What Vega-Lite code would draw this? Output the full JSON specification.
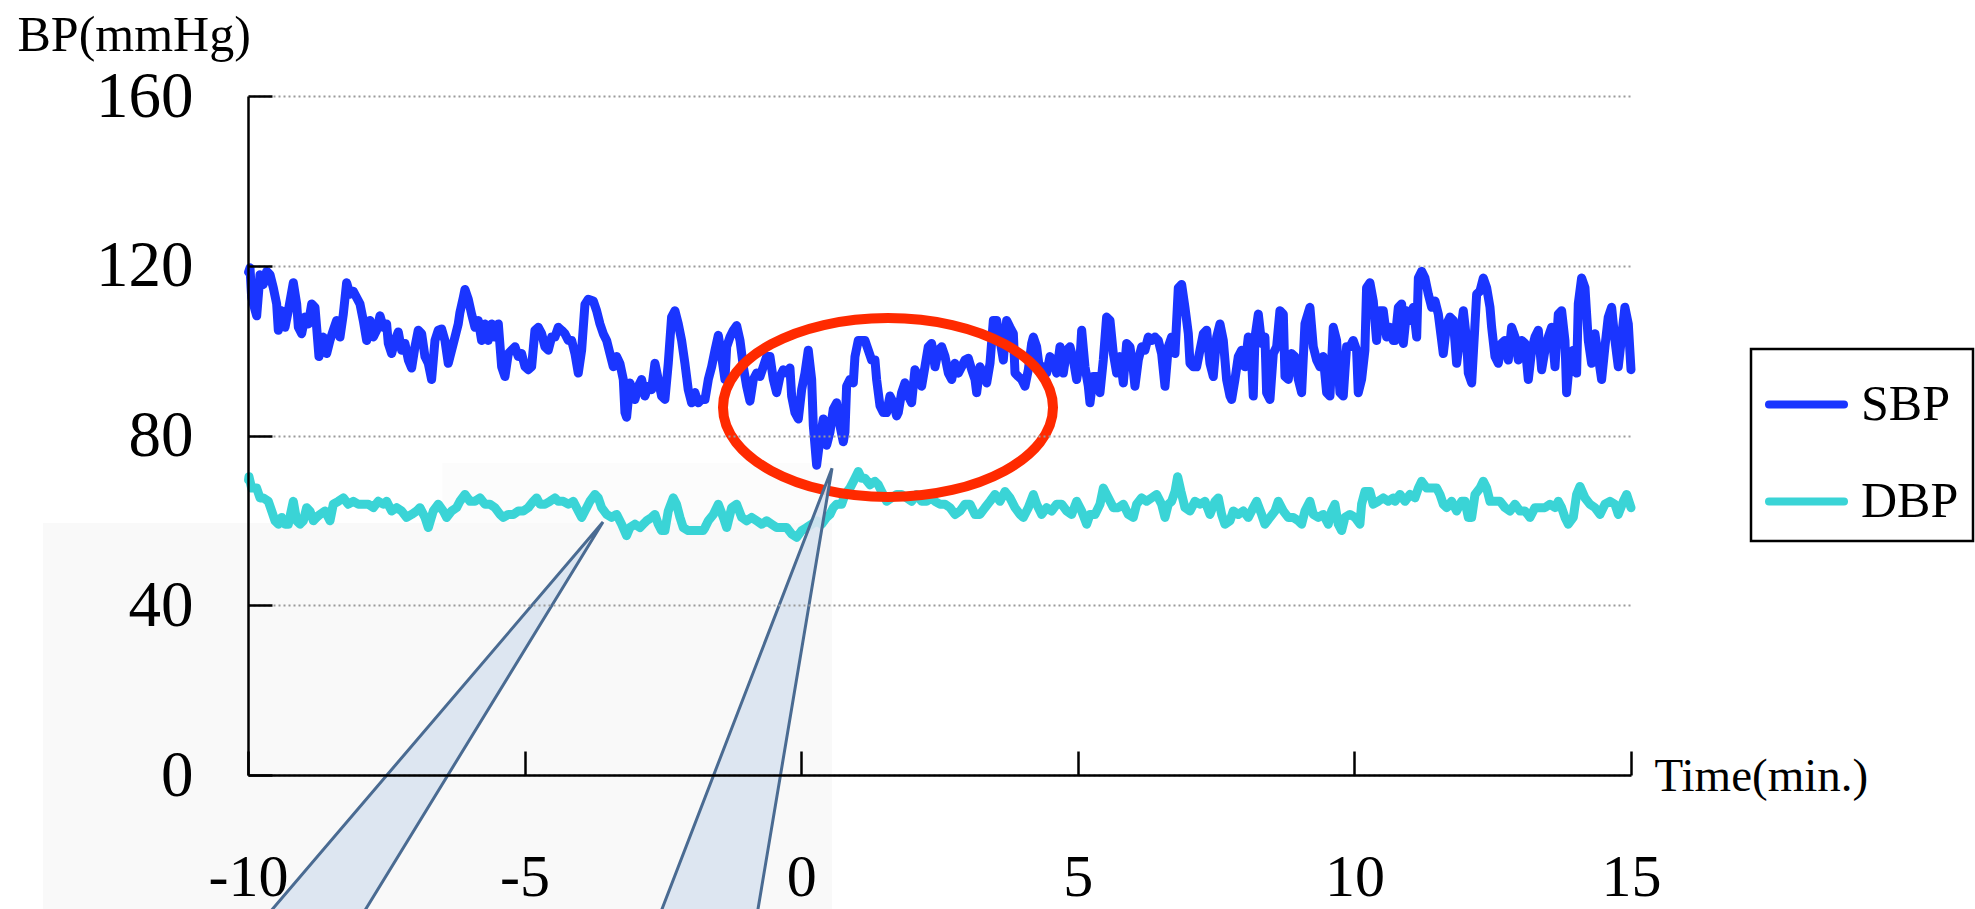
{
  "$schema": "https://vega.github.io/schema/vega-lite/v6.json",
  "width": 1383,
  "height": 679,
  "autosize": {"type": "none"},
  "padding": {"left": 248, "top": 96, "right": 344, "bottom": 134},
  "background": "white",
  "config": {
    "view": {"stroke": null},
    "font": "Liberation Serif",
    "legend": {"labelFont": "Liberation Serif"}
  },
  "datasets": {
    "bp": [
      {"t":-9.99,"v":118.5,"s":"SBP"},{"t":-9.964,"v":119.5,"s":"SBP"},{"t":-9.934,"v":112.5,"s":"SBP"},{"t":-9.843,"v":108.2,"s":"SBP"},{"t":-9.783,"v":117.9,"s":"SBP"},{"t":-9.723,"v":115.6,"s":"SBP"},{"t":-9.663,"v":118.7,"s":"SBP"},{"t":-9.602,"v":117.9,"s":"SBP"},{"t":-9.542,"v":114.8,"s":"SBP"},{"t":-9.482,"v":111,"s":"SBP"},{"t":-9.452,"v":104.8,"s":"SBP"},{"t":-9.392,"v":109.4,"s":"SBP"},{"t":-9.331,"v":105.5,"s":"SBP"},{"t":-9.271,"v":109.4,"s":"SBP"},{"t":-9.181,"v":116,"s":"SBP"},{"t":-9.12,"v":111,"s":"SBP"},{"t":-9.09,"v":105.5,"s":"SBP"},{"t":-9.03,"v":104,"s":"SBP"},{"t":-8.97,"v":107.9,"s":"SBP"},{"t":-8.91,"v":106.3,"s":"SBP"},{"t":-8.849,"v":111,"s":"SBP"},{"t":-8.789,"v":110.2,"s":"SBP"},{"t":-8.759,"v":105.5,"s":"SBP"},{"t":-8.717,"v":98.6,"s":"SBP"},{"t":-8.639,"v":103.2,"s":"SBP"},{"t":-8.578,"v":99.3,"s":"SBP"},{"t":-8.518,"v":102.4,"s":"SBP"},{"t":-8.458,"v":104.8,"s":"SBP"},{"t":-8.398,"v":107.1,"s":"SBP"},{"t":-8.337,"v":103.2,"s":"SBP"},{"t":-8.277,"v":108.6,"s":"SBP"},{"t":-8.217,"v":116,"s":"SBP"},{"t":-8.157,"v":113.3,"s":"SBP"},{"t":-8.096,"v":114,"s":"SBP"},{"t":-8.036,"v":112.5,"s":"SBP"},{"t":-7.976,"v":111,"s":"SBP"},{"t":-7.916,"v":107.1,"s":"SBP"},{"t":-7.855,"v":102.4,"s":"SBP"},{"t":-7.795,"v":107.1,"s":"SBP"},{"t":-7.735,"v":103.2,"s":"SBP"},{"t":-7.675,"v":104.8,"s":"SBP"},{"t":-7.614,"v":108.2,"s":"SBP"},{"t":-7.554,"v":105.5,"s":"SBP"},{"t":-7.494,"v":106.3,"s":"SBP"},{"t":-7.464,"v":101.7,"s":"SBP"},{"t":-7.404,"v":99.3,"s":"SBP"},{"t":-7.343,"v":102.4,"s":"SBP"},{"t":-7.283,"v":104.4,"s":"SBP"},{"t":-7.223,"v":100.1,"s":"SBP"},{"t":-7.163,"v":101.7,"s":"SBP"},{"t":-7.102,"v":97.8,"s":"SBP"},{"t":-7.042,"v":95.9,"s":"SBP"},{"t":-6.982,"v":100.9,"s":"SBP"},{"t":-6.922,"v":104.8,"s":"SBP"},{"t":-6.861,"v":104,"s":"SBP"},{"t":-6.801,"v":98.6,"s":"SBP"},{"t":-6.741,"v":97,"s":"SBP"},{"t":-6.681,"v":93.2,"s":"SBP"},{"t":-6.62,"v":102.4,"s":"SBP"},{"t":-6.56,"v":104.8,"s":"SBP"},{"t":-6.5,"v":105.1,"s":"SBP"},{"t":-6.44,"v":102.4,"s":"SBP"},{"t":-6.38,"v":97,"s":"SBP"},{"t":-6.319,"v":100.1,"s":"SBP"},{"t":-6.259,"v":103.2,"s":"SBP"},{"t":-6.199,"v":106.3,"s":"SBP"},{"t":-6.169,"v":109,"s":"SBP"},{"t":-6.108,"v":112.5,"s":"SBP"},{"t":-6.078,"v":114.4,"s":"SBP"},{"t":-6.018,"v":112.1,"s":"SBP"},{"t":-5.958,"v":108.6,"s":"SBP"},
      {"t":-5.897,"v":105.5,"s":"SBP"},{"t":-5.837,"v":107.1,"s":"SBP"},{"t":-5.777,"v":102.4,"s":"SBP"},{"t":-5.716,"v":106.3,"s":"SBP"},{"t":-5.656,"v":102.4,"s":"SBP"},{"t":-5.596,"v":106.3,"s":"SBP"},{"t":-5.536,"v":103.2,"s":"SBP"},{"t":-5.475,"v":106.3,"s":"SBP"},{"t":-5.415,"v":96.2,"s":"SBP"},{"t":-5.355,"v":93.9,"s":"SBP"},{"t":-5.295,"v":99.3,"s":"SBP"},{"t":-5.234,"v":100.1,"s":"SBP"},{"t":-5.174,"v":100.9,"s":"SBP"},{"t":-5.114,"v":98.6,"s":"SBP"},{"t":-5.054,"v":99.3,"s":"SBP"},{"t":-4.993,"v":96.2,"s":"SBP"},{"t":-4.933,"v":95.5,"s":"SBP"},{"t":-4.873,"v":96.2,"s":"SBP"},{"t":-4.813,"v":104.8,"s":"SBP"},{"t":-4.752,"v":105.5,"s":"SBP"},{"t":-4.692,"v":104,"s":"SBP"},{"t":-4.632,"v":100.9,"s":"SBP"},{"t":-4.572,"v":100.1,"s":"SBP"},{"t":-4.511,"v":103.2,"s":"SBP"},{"t":-4.451,"v":103.2,"s":"SBP"},{"t":-4.391,"v":105.5,"s":"SBP"},{"t":-4.331,"v":104.8,"s":"SBP"},{"t":-4.271,"v":104,"s":"SBP"},{"t":-4.21,"v":102.4,"s":"SBP"},{"t":-4.15,"v":102.4,"s":"SBP"},{"t":-4.09,"v":99.3,"s":"SBP"},{"t":-4.03,"v":94.7,"s":"SBP"},{"t":-3.969,"v":100.1,"s":"SBP"},{"t":-3.909,"v":110.9,"s":"SBP"},{"t":-3.849,"v":112.1,"s":"SBP"},{"t":-3.758,"v":111.7,"s":"SBP"},{"t":-3.698,"v":109.4,"s":"SBP"},{"t":-3.638,"v":106.3,"s":"SBP"},{"t":-3.578,"v":104,"s":"SBP"},{"t":-3.517,"v":102.4,"s":"SBP"},{"t":-3.457,"v":99.3,"s":"SBP"},{"t":-3.397,"v":96.2,"s":"SBP"},{"t":-3.337,"v":98.6,"s":"SBP"},{"t":-3.277,"v":97,"s":"SBP"},{"t":-3.216,"v":93.2,"s":"SBP"},{"t":-3.186,"v":85.4,"s":"SBP"},{"t":-3.156,"v":84.3,"s":"SBP"},{"t":-3.096,"v":92.4,"s":"SBP"},{"t":-3.005,"v":88.5,"s":"SBP"},{"t":-2.945,"v":91.6,"s":"SBP"},{"t":-2.885,"v":93.2,"s":"SBP"},{"t":-2.825,"v":89.3,"s":"SBP"},{"t":-2.765,"v":91.6,"s":"SBP"},{"t":-2.704,"v":90.8,"s":"SBP"},{"t":-2.644,"v":97,"s":"SBP"},{"t":-2.584,"v":93.2,"s":"SBP"},{"t":-2.524,"v":89.3,"s":"SBP"},{"t":-2.463,"v":88.5,"s":"SBP"},{"t":-2.403,"v":97,"s":"SBP"},{"t":-2.343,"v":107.9,"s":"SBP"},{"t":-2.283,"v":109.4,"s":"SBP"},{"t":-2.222,"v":106.3,"s":"SBP"},{"t":-2.162,"v":102.4,"s":"SBP"},{"t":-2.102,"v":97,"s":"SBP"},{"t":-2.042,"v":90.8,"s":"SBP"},{"t":-1.981,"v":87.7,"s":"SBP"},{"t":-1.921,"v":90.1,"s":"SBP"},{"t":-1.861,"v":87.7,"s":"SBP"},{"t":-1.801,"v":88.5,"s":"SBP"},
      {"t":-1.739,"v":88.5,"s":"SBP"},{"t":-1.679,"v":93.2,"s":"SBP"},{"t":-1.619,"v":96.2,"s":"SBP"},{"t":-1.558,"v":100.1,"s":"SBP"},{"t":-1.498,"v":103.6,"s":"SBP"},{"t":-1.438,"v":98.6,"s":"SBP"},{"t":-1.378,"v":93.2,"s":"SBP"},{"t":-1.347,"v":100.9,"s":"SBP"},{"t":-1.287,"v":103.2,"s":"SBP"},{"t":-1.227,"v":104.8,"s":"SBP"},{"t":-1.167,"v":105.9,"s":"SBP"},{"t":-1.106,"v":102.4,"s":"SBP"},{"t":-1.046,"v":96.2,"s":"SBP"},{"t":-0.986,"v":91.6,"s":"SBP"},{"t":-0.926,"v":88.1,"s":"SBP"},{"t":-0.866,"v":93.2,"s":"SBP"},{"t":-0.805,"v":94.7,"s":"SBP"},{"t":-0.745,"v":93.9,"s":"SBP"},{"t":-0.685,"v":96.2,"s":"SBP"},{"t":-0.625,"v":98.6,"s":"SBP"},{"t":-0.564,"v":98.6,"s":"SBP"},{"t":-0.504,"v":93.2,"s":"SBP"},{"t":-0.444,"v":90.1,"s":"SBP"},{"t":-0.384,"v":93.9,"s":"SBP"},{"t":-0.323,"v":95.5,"s":"SBP"},{"t":-0.263,"v":94.7,"s":"SBP"},{"t":-0.203,"v":95.9,"s":"SBP"},{"t":-0.173,"v":89.3,"s":"SBP"},{"t":-0.113,"v":85.4,"s":"SBP"},{"t":-0.052,"v":83.9,"s":"SBP"},{"t":0.008,"v":90.8,"s":"SBP"},{"t":0.068,"v":94.7,"s":"SBP"},{"t":0.128,"v":100.1,"s":"SBP"},{"t":0.189,"v":93.2,"s":"SBP"},{"t":0.219,"v":82.3,"s":"SBP"},{"t":0.279,"v":73,"s":"SBP"},{"t":0.339,"v":79.2,"s":"SBP"},{"t":0.4,"v":83.9,"s":"SBP"},{"t":0.46,"v":77.7,"s":"SBP"},{"t":0.52,"v":80.8,"s":"SBP"},{"t":0.58,"v":86.2,"s":"SBP"},{"t":0.641,"v":87.7,"s":"SBP"},{"t":0.701,"v":82.3,"s":"SBP"},{"t":0.761,"v":78.5,"s":"SBP"},{"t":0.791,"v":80.8,"s":"SBP"},{"t":0.821,"v":91.6,"s":"SBP"},{"t":0.881,"v":93.2,"s":"SBP"},{"t":0.942,"v":92.4,"s":"SBP"},{"t":0.972,"v":98.6,"s":"SBP"},{"t":1.032,"v":102.4,"s":"SBP"},{"t":1.092,"v":102.4,"s":"SBP"},{"t":1.153,"v":102.4,"s":"SBP"},{"t":1.213,"v":100.1,"s":"SBP"},{"t":1.273,"v":97.8,"s":"SBP"},{"t":1.333,"v":97.8,"s":"SBP"},{"t":1.363,"v":93.2,"s":"SBP"},{"t":1.424,"v":87,"s":"SBP"},{"t":1.484,"v":85.4,"s":"SBP"},{"t":1.544,"v":85.4,"s":"SBP"},{"t":1.604,"v":89.3,"s":"SBP"},{"t":1.665,"v":87.7,"s":"SBP"},{"t":1.725,"v":84.6,"s":"SBP"},{"t":1.755,"v":85.4,"s":"SBP"},{"t":1.815,"v":90.1,"s":"SBP"},{"t":1.875,"v":92.4,"s":"SBP"},{"t":1.936,"v":89.3,"s":"SBP"},{"t":1.996,"v":87.7,"s":"SBP"},{"t":2.056,"v":95.5,"s":"SBP"},{"t":2.116,"v":93.9,"s":"SBP"},{"t":2.177,"v":91.6,"s":"SBP"},{"t":2.237,"v":96.2,"s":"SBP"},{"t":2.297,"v":100.9,"s":"SBP"},{"t":2.357,"v":101.7,"s":"SBP"},
      {"t":2.419,"v":96.2,"s":"SBP"},{"t":2.479,"v":100.1,"s":"SBP"},{"t":2.539,"v":100.9,"s":"SBP"},{"t":2.6,"v":98.6,"s":"SBP"},{"t":2.66,"v":94.7,"s":"SBP"},{"t":2.72,"v":93.2,"s":"SBP"},{"t":2.78,"v":97,"s":"SBP"},{"t":2.841,"v":94.7,"s":"SBP"},{"t":2.901,"v":96.2,"s":"SBP"},{"t":2.961,"v":97.8,"s":"SBP"},{"t":3.021,"v":98.2,"s":"SBP"},{"t":3.082,"v":95.5,"s":"SBP"},{"t":3.142,"v":93.2,"s":"SBP"},{"t":3.172,"v":90.1,"s":"SBP"},{"t":3.232,"v":96.2,"s":"SBP"},{"t":3.292,"v":94.7,"s":"SBP"},{"t":3.353,"v":92.4,"s":"SBP"},{"t":3.413,"v":97,"s":"SBP"},{"t":3.473,"v":107.1,"s":"SBP"},{"t":3.533,"v":107.1,"s":"SBP"},{"t":3.594,"v":102.4,"s":"SBP"},{"t":3.654,"v":97.8,"s":"SBP"},{"t":3.714,"v":107.1,"s":"SBP"},{"t":3.774,"v":105.5,"s":"SBP"},{"t":3.835,"v":104,"s":"SBP"},{"t":3.865,"v":94.7,"s":"SBP"},{"t":3.925,"v":93.9,"s":"SBP"},{"t":3.985,"v":93.2,"s":"SBP"},{"t":4.045,"v":91.6,"s":"SBP"},{"t":4.106,"v":95.5,"s":"SBP"},{"t":4.166,"v":101.7,"s":"SBP"},{"t":4.196,"v":103.2,"s":"SBP"},{"t":4.256,"v":100.9,"s":"SBP"},{"t":4.317,"v":94.7,"s":"SBP"},{"t":4.377,"v":96.2,"s":"SBP"},{"t":4.437,"v":94.7,"s":"SBP"},{"t":4.497,"v":98.6,"s":"SBP"},{"t":4.558,"v":97.8,"s":"SBP"},{"t":4.618,"v":94.7,"s":"SBP"},{"t":4.678,"v":100.9,"s":"SBP"},{"t":4.738,"v":94.7,"s":"SBP"},{"t":4.799,"v":100.1,"s":"SBP"},{"t":4.859,"v":100.9,"s":"SBP"},{"t":4.919,"v":97.8,"s":"SBP"},{"t":4.979,"v":93.2,"s":"SBP"},{"t":5.039,"v":97.8,"s":"SBP"},{"t":5.07,"v":104.8,"s":"SBP"},{"t":5.13,"v":96.2,"s":"SBP"},{"t":5.19,"v":91.6,"s":"SBP"},{"t":5.22,"v":87.7,"s":"SBP"},{"t":5.28,"v":93.9,"s":"SBP"},{"t":5.341,"v":93.9,"s":"SBP"},{"t":5.401,"v":90.1,"s":"SBP"},{"t":5.461,"v":97.8,"s":"SBP"},{"t":5.521,"v":107.9,"s":"SBP"},{"t":5.582,"v":107.1,"s":"SBP"},{"t":5.642,"v":99.3,"s":"SBP"},{"t":5.702,"v":94.7,"s":"SBP"},{"t":5.762,"v":98.6,"s":"SBP"},{"t":5.823,"v":92.4,"s":"SBP"},{"t":5.883,"v":101.7,"s":"SBP"},{"t":5.943,"v":100.9,"s":"SBP"},{"t":6.003,"v":95.5,"s":"SBP"},{"t":6.033,"v":91.6,"s":"SBP"},{"t":6.094,"v":97.8,"s":"SBP"},{"t":6.154,"v":100.9,"s":"SBP"},{"t":6.214,"v":100.1,"s":"SBP"},{"t":6.274,"v":103.2,"s":"SBP"},{"t":6.335,"v":102.4,"s":"SBP"},{"t":6.395,"v":103.2,"s":"SBP"},{"t":6.455,"v":102.4,"s":"SBP"},{"t":6.515,"v":99.3,"s":"SBP"},
      {"t":6.576,"v":91.6,"s":"SBP"},{"t":6.636,"v":100.9,"s":"SBP"},{"t":6.696,"v":103.2,"s":"SBP"},{"t":6.757,"v":99.3,"s":"SBP"},{"t":6.817,"v":114.8,"s":"SBP"},{"t":6.877,"v":115.6,"s":"SBP"},{"t":6.937,"v":110.2,"s":"SBP"},{"t":6.998,"v":104,"s":"SBP"},{"t":7.028,"v":97,"s":"SBP"},{"t":7.088,"v":96.2,"s":"SBP"},{"t":7.148,"v":96.2,"s":"SBP"},{"t":7.209,"v":100.1,"s":"SBP"},{"t":7.269,"v":104,"s":"SBP"},{"t":7.329,"v":104.8,"s":"SBP"},{"t":7.389,"v":97,"s":"SBP"},{"t":7.449,"v":93.9,"s":"SBP"},{"t":7.51,"v":103.2,"s":"SBP"},{"t":7.57,"v":106.3,"s":"SBP"},{"t":7.63,"v":102.4,"s":"SBP"},{"t":7.69,"v":93.2,"s":"SBP"},{"t":7.751,"v":89.3,"s":"SBP"},{"t":7.781,"v":88.5,"s":"SBP"},{"t":7.841,"v":93.2,"s":"SBP"},{"t":7.901,"v":98.6,"s":"SBP"},{"t":7.962,"v":100.1,"s":"SBP"},{"t":8.022,"v":96.2,"s":"SBP"},{"t":8.082,"v":103.2,"s":"SBP"},{"t":8.142,"v":97.8,"s":"SBP"},{"t":8.172,"v":89.3,"s":"SBP"},{"t":8.203,"v":103.2,"s":"SBP"},{"t":8.263,"v":108.6,"s":"SBP"},{"t":8.323,"v":101.7,"s":"SBP"},{"t":8.383,"v":103.2,"s":"SBP"},{"t":8.413,"v":90.1,"s":"SBP"},{"t":8.474,"v":88.5,"s":"SBP"},{"t":8.534,"v":99.3,"s":"SBP"},{"t":8.594,"v":100.9,"s":"SBP"},{"t":8.654,"v":109.4,"s":"SBP"},{"t":8.715,"v":108.6,"s":"SBP"},{"t":8.745,"v":93.9,"s":"SBP"},{"t":8.805,"v":93.2,"s":"SBP"},{"t":8.865,"v":99.3,"s":"SBP"},{"t":8.925,"v":98.6,"s":"SBP"},{"t":8.986,"v":93.2,"s":"SBP"},{"t":9.046,"v":90.1,"s":"SBP"},{"t":9.106,"v":106.3,"s":"SBP"},{"t":9.196,"v":110.2,"s":"SBP"},{"t":9.257,"v":100.9,"s":"SBP"},{"t":9.317,"v":97.8,"s":"SBP"},{"t":9.377,"v":96.2,"s":"SBP"},{"t":9.437,"v":98.6,"s":"SBP"},{"t":9.498,"v":90.1,"s":"SBP"},{"t":9.558,"v":89.3,"s":"SBP"},{"t":9.618,"v":105.5,"s":"SBP"},{"t":9.678,"v":102.4,"s":"SBP"},{"t":9.739,"v":90.1,"s":"SBP"},{"t":9.799,"v":89.3,"s":"SBP"},{"t":9.859,"v":100.9,"s":"SBP"},{"t":9.919,"v":100.9,"s":"SBP"},{"t":9.979,"v":102.4,"s":"SBP"},{"t":10.04,"v":100.1,"s":"SBP"},{"t":10.07,"v":90.1,"s":"SBP"},{"t":10.13,"v":93.2,"s":"SBP"},{"t":10.19,"v":100.1,"s":"SBP"},{"t":10.22,"v":114.8,"s":"SBP"},{"t":10.281,"v":116,"s":"SBP"},{"t":10.341,"v":111.7,"s":"SBP"},{"t":10.401,"v":102.4,"s":"SBP"},{"t":10.461,"v":109.4,"s":"SBP"},{"t":10.522,"v":109.4,"s":"SBP"},{"t":10.582,"v":103.2,"s":"SBP"},{"t":10.642,"v":105.5,"s":"SBP"},{"t":10.702,"v":102.4,"s":"SBP"},
      {"t":10.734,"v":102.4,"s":"SBP"},{"t":10.794,"v":110.2,"s":"SBP"},{"t":10.854,"v":111,"s":"SBP"},{"t":10.885,"v":101.7,"s":"SBP"},{"t":10.945,"v":109.4,"s":"SBP"},{"t":11.005,"v":107.1,"s":"SBP"},{"t":11.065,"v":110.2,"s":"SBP"},{"t":11.126,"v":103.2,"s":"SBP"},{"t":11.156,"v":117.1,"s":"SBP"},{"t":11.216,"v":118.7,"s":"SBP"},{"t":11.276,"v":117.1,"s":"SBP"},{"t":11.336,"v":113.3,"s":"SBP"},{"t":11.397,"v":110.2,"s":"SBP"},{"t":11.457,"v":111.7,"s":"SBP"},{"t":11.517,"v":108.6,"s":"SBP"},{"t":11.577,"v":102.4,"s":"SBP"},{"t":11.607,"v":99.3,"s":"SBP"},{"t":11.668,"v":106.3,"s":"SBP"},{"t":11.728,"v":107.9,"s":"SBP"},{"t":11.788,"v":107.1,"s":"SBP"},{"t":11.848,"v":97,"s":"SBP"},{"t":11.909,"v":103.2,"s":"SBP"},{"t":11.969,"v":109.4,"s":"SBP"},{"t":12.029,"v":102.4,"s":"SBP"},{"t":12.059,"v":94.7,"s":"SBP"},{"t":12.12,"v":92.4,"s":"SBP"},{"t":12.18,"v":106.3,"s":"SBP"},{"t":12.21,"v":113.3,"s":"SBP"},{"t":12.27,"v":114,"s":"SBP"},{"t":12.33,"v":117.1,"s":"SBP"},{"t":12.391,"v":114.8,"s":"SBP"},{"t":12.451,"v":110.2,"s":"SBP"},{"t":12.481,"v":105.5,"s":"SBP"},{"t":12.541,"v":98.6,"s":"SBP"},{"t":12.601,"v":97,"s":"SBP"},{"t":12.662,"v":101.7,"s":"SBP"},{"t":12.722,"v":102.4,"s":"SBP"},{"t":12.782,"v":97.8,"s":"SBP"},{"t":12.842,"v":105.5,"s":"SBP"},{"t":12.903,"v":103.2,"s":"SBP"},{"t":12.963,"v":97.8,"s":"SBP"},{"t":13.023,"v":102.4,"s":"SBP"},{"t":13.083,"v":101.7,"s":"SBP"},{"t":13.144,"v":93.2,"s":"SBP"},{"t":13.204,"v":100.1,"s":"SBP"},{"t":13.264,"v":103.2,"s":"SBP"},{"t":13.324,"v":104.8,"s":"SBP"},{"t":13.385,"v":95.5,"s":"SBP"},{"t":13.445,"v":100.1,"s":"SBP"},{"t":13.505,"v":103.2,"s":"SBP"},{"t":13.565,"v":105.5,"s":"SBP"},{"t":13.626,"v":96.2,"s":"SBP"},{"t":13.686,"v":108.6,"s":"SBP"},{"t":13.746,"v":109.4,"s":"SBP"},{"t":13.806,"v":102.4,"s":"SBP"},{"t":13.836,"v":90.1,"s":"SBP"},{"t":13.897,"v":98.6,"s":"SBP"},{"t":13.957,"v":100.1,"s":"SBP"},{"t":14.017,"v":94.7,"s":"SBP"},{"t":14.047,"v":111,"s":"SBP"},{"t":14.107,"v":117.1,"s":"SBP"},{"t":14.168,"v":114.8,"s":"SBP"},{"t":14.228,"v":102.4,"s":"SBP"},{"t":14.288,"v":97,"s":"SBP"},{"t":14.348,"v":104,"s":"SBP"},{"t":14.409,"v":98.6,"s":"SBP"},{"t":14.469,"v":93.2,"s":"SBP"},{"t":14.529,"v":100.9,"s":"SBP"},{"t":14.589,"v":107.9,"s":"SBP"},{"t":14.65,"v":110.2,"s":"SBP"},{"t":14.71,"v":102.4,"s":"SBP"},{"t":14.77,"v":96.2,"s":"SBP"},{"t":14.83,"v":103.2,"s":"SBP"},{"t":14.89,"v":110.2,"s":"SBP"},{"t":14.951,"v":106.3,"s":"SBP"},{"t":15.0,"v":95.5,"s":"SBP"},
      {"t":-9.99,"v":69.5,"s":"DBP"},{"t":-9.982,"v":70.3,"s":"DBP"},{"t":-9.934,"v":67.6,"s":"DBP"},{"t":-9.843,"v":67.6,"s":"DBP"},{"t":-9.783,"v":65.3,"s":"DBP"},{"t":-9.723,"v":65.3,"s":"DBP"},{"t":-9.633,"v":64.5,"s":"DBP"},{"t":-9.572,"v":62.2,"s":"DBP"},{"t":-9.512,"v":59.9,"s":"DBP"},{"t":-9.452,"v":59.1,"s":"DBP"},{"t":-9.392,"v":60.7,"s":"DBP"},{"t":-9.331,"v":59.1,"s":"DBP"},{"t":-9.271,"v":59.1,"s":"DBP"},{"t":-9.181,"v":64.5,"s":"DBP"},{"t":-9.12,"v":59.9,"s":"DBP"},{"t":-9.06,"v":59.1,"s":"DBP"},{"t":-9.0,"v":59.9,"s":"DBP"},{"t":-8.94,"v":63,"s":"DBP"},{"t":-8.88,"v":62.2,"s":"DBP"},{"t":-8.819,"v":59.9,"s":"DBP"},{"t":-8.759,"v":60.7,"s":"DBP"},{"t":-8.699,"v":61.4,"s":"DBP"},{"t":-8.608,"v":62.2,"s":"DBP"},{"t":-8.518,"v":59.9,"s":"DBP"},{"t":-8.458,"v":63.8,"s":"DBP"},{"t":-8.367,"v":64.5,"s":"DBP"},{"t":-8.277,"v":65.3,"s":"DBP"},{"t":-8.187,"v":63.8,"s":"DBP"},{"t":-8.096,"v":64.5,"s":"DBP"},{"t":-8.006,"v":63.8,"s":"DBP"},{"t":-7.916,"v":63.8,"s":"DBP"},{"t":-7.825,"v":63.8,"s":"DBP"},{"t":-7.735,"v":63,"s":"DBP"},{"t":-7.645,"v":64.5,"s":"DBP"},{"t":-7.554,"v":63.8,"s":"DBP"},{"t":-7.494,"v":64.5,"s":"DBP"},{"t":-7.404,"v":62.2,"s":"DBP"},{"t":-7.313,"v":63,"s":"DBP"},{"t":-7.223,"v":62.2,"s":"DBP"},{"t":-7.133,"v":60.7,"s":"DBP"},{"t":-7.042,"v":61.4,"s":"DBP"},{"t":-6.952,"v":62.2,"s":"DBP"},{"t":-6.892,"v":63,"s":"DBP"},{"t":-6.801,"v":60.7,"s":"DBP"},{"t":-6.741,"v":58.3,"s":"DBP"},{"t":-6.651,"v":62.2,"s":"DBP"},{"t":-6.56,"v":63.8,"s":"DBP"},{"t":-6.47,"v":62.2,"s":"DBP"},{"t":-6.41,"v":60.7,"s":"DBP"},{"t":-6.319,"v":62.2,"s":"DBP"},{"t":-6.229,"v":63,"s":"DBP"},{"t":-6.169,"v":64.5,"s":"DBP"},{"t":-6.078,"v":66.1,"s":"DBP"},{"t":-5.988,"v":64.5,"s":"DBP"},
      {"t":-5.897,"v":64.5,"s":"DBP"},{"t":-5.807,"v":65.3,"s":"DBP"},{"t":-5.716,"v":63.8,"s":"DBP"},{"t":-5.626,"v":63.8,"s":"DBP"},{"t":-5.536,"v":63,"s":"DBP"},{"t":-5.445,"v":61.4,"s":"DBP"},{"t":-5.385,"v":60.7,"s":"DBP"},{"t":-5.295,"v":61.4,"s":"DBP"},{"t":-5.204,"v":61.4,"s":"DBP"},{"t":-5.114,"v":62.2,"s":"DBP"},{"t":-5.024,"v":62.2,"s":"DBP"},{"t":-4.933,"v":63,"s":"DBP"},{"t":-4.843,"v":64.5,"s":"DBP"},{"t":-4.783,"v":65.3,"s":"DBP"},{"t":-4.722,"v":63.8,"s":"DBP"},{"t":-4.632,"v":63.8,"s":"DBP"},{"t":-4.542,"v":64.5,"s":"DBP"},{"t":-4.451,"v":65.3,"s":"DBP"},{"t":-4.391,"v":64.5,"s":"DBP"},{"t":-4.301,"v":64.5,"s":"DBP"},{"t":-4.21,"v":63.8,"s":"DBP"},{"t":-4.12,"v":64.5,"s":"DBP"},{"t":-4.03,"v":62.2,"s":"DBP"},{"t":-3.969,"v":60.7,"s":"DBP"},{"t":-3.909,"v":62.2,"s":"DBP"},{"t":-3.819,"v":64.5,"s":"DBP"},{"t":-3.728,"v":66.1,"s":"DBP"},{"t":-3.668,"v":65.3,"s":"DBP"},{"t":-3.608,"v":63,"s":"DBP"},{"t":-3.517,"v":61.4,"s":"DBP"},{"t":-3.427,"v":60.7,"s":"DBP"},{"t":-3.337,"v":61.4,"s":"DBP"},{"t":-3.246,"v":59.1,"s":"DBP"},{"t":-3.156,"v":56.4,"s":"DBP"},{"t":-3.096,"v":58.3,"s":"DBP"},{"t":-3.005,"v":59.1,"s":"DBP"},{"t":-2.915,"v":58.3,"s":"DBP"},{"t":-2.855,"v":59.1,"s":"DBP"},{"t":-2.795,"v":59.9,"s":"DBP"},{"t":-2.704,"v":60.7,"s":"DBP"},{"t":-2.644,"v":61.4,"s":"DBP"},{"t":-2.584,"v":59.1,"s":"DBP"},{"t":-2.524,"v":57.6,"s":"DBP"},{"t":-2.463,"v":57.6,"s":"DBP"},{"t":-2.403,"v":62.2,"s":"DBP"},{"t":-2.313,"v":65.3,"s":"DBP"},{"t":-2.253,"v":63.8,"s":"DBP"},{"t":-2.192,"v":60.7,"s":"DBP"},{"t":-2.132,"v":58.3,"s":"DBP"},{"t":-2.042,"v":57.6,"s":"DBP"},{"t":-1.951,"v":57.6,"s":"DBP"},{"t":-1.861,"v":57.6,"s":"DBP"},{"t":-1.771,"v":57.6,"s":"DBP"},
      {"t":-1.739,"v":58.3,"s":"DBP"},{"t":-1.679,"v":59.9,"s":"DBP"},{"t":-1.588,"v":61.4,"s":"DBP"},{"t":-1.498,"v":63.8,"s":"DBP"},{"t":-1.408,"v":60.7,"s":"DBP"},{"t":-1.347,"v":58.3,"s":"DBP"},{"t":-1.257,"v":63,"s":"DBP"},{"t":-1.167,"v":63.8,"s":"DBP"},{"t":-1.076,"v":60.7,"s":"DBP"},{"t":-0.986,"v":59.9,"s":"DBP"},{"t":-0.896,"v":60.7,"s":"DBP"},{"t":-0.805,"v":59.9,"s":"DBP"},{"t":-0.715,"v":59.1,"s":"DBP"},{"t":-0.625,"v":59.9,"s":"DBP"},{"t":-0.534,"v":59.1,"s":"DBP"},{"t":-0.444,"v":58.3,"s":"DBP"},{"t":-0.354,"v":58.3,"s":"DBP"},{"t":-0.263,"v":58.3,"s":"DBP"},{"t":-0.173,"v":56.8,"s":"DBP"},{"t":-0.082,"v":56,"s":"DBP"},{"t":0.008,"v":57.6,"s":"DBP"},{"t":0.098,"v":58.3,"s":"DBP"},{"t":0.189,"v":59.1,"s":"DBP"},{"t":0.279,"v":59.9,"s":"DBP"},{"t":0.37,"v":59.1,"s":"DBP"},{"t":0.46,"v":60.7,"s":"DBP"},{"t":0.52,"v":61.4,"s":"DBP"},{"t":0.58,"v":63,"s":"DBP"},{"t":0.641,"v":63.8,"s":"DBP"},{"t":0.731,"v":63.8,"s":"DBP"},{"t":0.791,"v":66.1,"s":"DBP"},{"t":0.881,"v":67.6,"s":"DBP"},{"t":0.972,"v":69.9,"s":"DBP"},{"t":1.032,"v":71.5,"s":"DBP"},{"t":1.092,"v":69.9,"s":"DBP"},{"t":1.153,"v":69.9,"s":"DBP"},{"t":1.243,"v":68.4,"s":"DBP"},{"t":1.333,"v":69.2,"s":"DBP"},{"t":1.394,"v":68.4,"s":"DBP"},{"t":1.454,"v":66.8,"s":"DBP"},{"t":1.544,"v":64.5,"s":"DBP"},{"t":1.634,"v":65.3,"s":"DBP"},{"t":1.725,"v":66.1,"s":"DBP"},{"t":1.815,"v":66.1,"s":"DBP"},{"t":1.905,"v":65.3,"s":"DBP"},{"t":1.996,"v":64.5,"s":"DBP"},{"t":2.086,"v":66.1,"s":"DBP"},{"t":2.177,"v":64.5,"s":"DBP"},{"t":2.267,"v":64.5,"s":"DBP"},{"t":2.357,"v":65.3,"s":"DBP"},
      {"t":2.419,"v":64.5,"s":"DBP"},{"t":2.509,"v":63.8,"s":"DBP"},{"t":2.6,"v":63.8,"s":"DBP"},{"t":2.69,"v":63,"s":"DBP"},{"t":2.78,"v":61.4,"s":"DBP"},{"t":2.871,"v":62.2,"s":"DBP"},{"t":2.961,"v":63.8,"s":"DBP"},{"t":3.052,"v":63.8,"s":"DBP"},{"t":3.142,"v":61.4,"s":"DBP"},{"t":3.232,"v":61.4,"s":"DBP"},{"t":3.323,"v":63,"s":"DBP"},{"t":3.413,"v":64.5,"s":"DBP"},{"t":3.503,"v":66.1,"s":"DBP"},{"t":3.594,"v":64.5,"s":"DBP"},{"t":3.684,"v":66.8,"s":"DBP"},{"t":3.774,"v":65.3,"s":"DBP"},{"t":3.865,"v":63,"s":"DBP"},{"t":3.955,"v":61.4,"s":"DBP"},{"t":4.015,"v":60.7,"s":"DBP"},{"t":4.106,"v":63,"s":"DBP"},{"t":4.196,"v":66.1,"s":"DBP"},{"t":4.256,"v":63.8,"s":"DBP"},{"t":4.347,"v":61.4,"s":"DBP"},{"t":4.437,"v":63,"s":"DBP"},{"t":4.527,"v":62.2,"s":"DBP"},{"t":4.618,"v":63.8,"s":"DBP"},{"t":4.708,"v":63.8,"s":"DBP"},{"t":4.799,"v":62.2,"s":"DBP"},{"t":4.889,"v":61.4,"s":"DBP"},{"t":4.979,"v":64.5,"s":"DBP"},{"t":5.07,"v":62.2,"s":"DBP"},{"t":5.16,"v":59.1,"s":"DBP"},{"t":5.22,"v":61.4,"s":"DBP"},{"t":5.311,"v":61.4,"s":"DBP"},{"t":5.401,"v":63.8,"s":"DBP"},{"t":5.461,"v":67.6,"s":"DBP"},{"t":5.552,"v":65.3,"s":"DBP"},{"t":5.642,"v":63,"s":"DBP"},{"t":5.732,"v":63,"s":"DBP"},{"t":5.823,"v":63.8,"s":"DBP"},{"t":5.913,"v":61.4,"s":"DBP"},{"t":6.003,"v":60.7,"s":"DBP"},{"t":6.063,"v":63.8,"s":"DBP"},{"t":6.154,"v":65.3,"s":"DBP"},{"t":6.244,"v":64.5,"s":"DBP"},{"t":6.335,"v":65.3,"s":"DBP"},{"t":6.425,"v":66.1,"s":"DBP"},{"t":6.515,"v":63.8,"s":"DBP"},
      {"t":6.576,"v":60.7,"s":"DBP"},{"t":6.636,"v":63.8,"s":"DBP"},{"t":6.696,"v":64.5,"s":"DBP"},{"t":6.757,"v":66.8,"s":"DBP"},{"t":6.805,"v":70.3,"s":"DBP"},{"t":6.865,"v":66.8,"s":"DBP"},{"t":6.937,"v":63,"s":"DBP"},{"t":7.028,"v":62.2,"s":"DBP"},{"t":7.118,"v":64.5,"s":"DBP"},{"t":7.209,"v":63.8,"s":"DBP"},{"t":7.299,"v":64.5,"s":"DBP"},{"t":7.389,"v":61.4,"s":"DBP"},{"t":7.48,"v":64.5,"s":"DBP"},{"t":7.54,"v":65.3,"s":"DBP"},{"t":7.6,"v":61.4,"s":"DBP"},{"t":7.66,"v":59.1,"s":"DBP"},{"t":7.751,"v":59.9,"s":"DBP"},{"t":7.811,"v":62.2,"s":"DBP"},{"t":7.901,"v":61.4,"s":"DBP"},{"t":7.992,"v":62.2,"s":"DBP"},{"t":8.082,"v":60.7,"s":"DBP"},{"t":8.172,"v":63,"s":"DBP"},{"t":8.233,"v":64.5,"s":"DBP"},{"t":8.323,"v":61.4,"s":"DBP"},{"t":8.383,"v":59.1,"s":"DBP"},{"t":8.474,"v":60.7,"s":"DBP"},{"t":8.564,"v":62.2,"s":"DBP"},{"t":8.624,"v":64.5,"s":"DBP"},{"t":8.715,"v":62.2,"s":"DBP"},{"t":8.805,"v":60.7,"s":"DBP"},{"t":8.895,"v":60.7,"s":"DBP"},{"t":8.986,"v":59.9,"s":"DBP"},{"t":9.046,"v":59.1,"s":"DBP"},{"t":9.106,"v":62.2,"s":"DBP"},{"t":9.196,"v":64.5,"s":"DBP"},{"t":9.257,"v":61.4,"s":"DBP"},{"t":9.347,"v":60.7,"s":"DBP"},{"t":9.437,"v":61.4,"s":"DBP"},{"t":9.528,"v":59.1,"s":"DBP"},{"t":9.588,"v":62.2,"s":"DBP"},{"t":9.648,"v":63.8,"s":"DBP"},{"t":9.708,"v":59.1,"s":"DBP"},{"t":9.769,"v":57.6,"s":"DBP"},{"t":9.829,"v":60.7,"s":"DBP"},{"t":9.919,"v":61.4,"s":"DBP"},{"t":10.01,"v":60.7,"s":"DBP"},{"t":10.1,"v":59.1,"s":"DBP"},{"t":10.13,"v":63.8,"s":"DBP"},{"t":10.19,"v":66.8,"s":"DBP"},{"t":10.281,"v":66.8,"s":"DBP"},{"t":10.341,"v":63.8,"s":"DBP"},{"t":10.431,"v":64.5,"s":"DBP"},{"t":10.522,"v":65.3,"s":"DBP"},{"t":10.612,"v":64.5,"s":"DBP"},{"t":10.702,"v":65.3,"s":"DBP"},
      {"t":10.734,"v":64.5,"s":"DBP"},{"t":10.824,"v":66.1,"s":"DBP"},{"t":10.915,"v":64.5,"s":"DBP"},{"t":11.005,"v":66.1,"s":"DBP"},{"t":11.095,"v":65.3,"s":"DBP"},{"t":11.156,"v":67.6,"s":"DBP"},{"t":11.216,"v":69.2,"s":"DBP"},{"t":11.306,"v":67.6,"s":"DBP"},{"t":11.397,"v":67.6,"s":"DBP"},{"t":11.487,"v":67.6,"s":"DBP"},{"t":11.547,"v":66.1,"s":"DBP"},{"t":11.607,"v":63.8,"s":"DBP"},{"t":11.668,"v":63,"s":"DBP"},{"t":11.758,"v":64.5,"s":"DBP"},{"t":11.848,"v":62.2,"s":"DBP"},{"t":11.939,"v":64.5,"s":"DBP"},{"t":11.999,"v":64.5,"s":"DBP"},{"t":12.059,"v":60.7,"s":"DBP"},{"t":12.12,"v":60.7,"s":"DBP"},{"t":12.18,"v":66.1,"s":"DBP"},{"t":12.27,"v":67.6,"s":"DBP"},{"t":12.33,"v":69.2,"s":"DBP"},{"t":12.391,"v":67.6,"s":"DBP"},{"t":12.451,"v":64.5,"s":"DBP"},{"t":12.541,"v":64.5,"s":"DBP"},{"t":12.632,"v":64.5,"s":"DBP"},{"t":12.722,"v":63,"s":"DBP"},{"t":12.812,"v":62.2,"s":"DBP"},{"t":12.903,"v":63.8,"s":"DBP"},{"t":12.993,"v":62.2,"s":"DBP"},{"t":13.083,"v":62.2,"s":"DBP"},{"t":13.174,"v":60.7,"s":"DBP"},{"t":13.264,"v":63,"s":"DBP"},{"t":13.354,"v":63,"s":"DBP"},{"t":13.445,"v":63,"s":"DBP"},{"t":13.535,"v":63.8,"s":"DBP"},{"t":13.626,"v":63,"s":"DBP"},{"t":13.686,"v":64.5,"s":"DBP"},{"t":13.746,"v":63,"s":"DBP"},{"t":13.806,"v":60.7,"s":"DBP"},{"t":13.867,"v":59.1,"s":"DBP"},{"t":13.957,"v":60.7,"s":"DBP"},{"t":14.017,"v":66.1,"s":"DBP"},{"t":14.077,"v":68,"s":"DBP"},{"t":14.168,"v":65.3,"s":"DBP"},{"t":14.258,"v":63.8,"s":"DBP"},{"t":14.348,"v":63,"s":"DBP"},{"t":14.439,"v":61.4,"s":"DBP"},{"t":14.529,"v":63.8,"s":"DBP"},{"t":14.62,"v":64.5,"s":"DBP"},{"t":14.71,"v":63.8,"s":"DBP"},{"t":14.77,"v":61.4,"s":"DBP"},{"t":14.861,"v":64.5,"s":"DBP"},{"t":14.921,"v":66.1,"s":"DBP"},{"t":15.0,"v":63,"s":"DBP"}
    ],
    "bgA": [{"t": -13.706, "t2": 0.557, "v": 59.4, "v2": -33}],
    "bgB": [{"t": -6.493, "t2": 0.557, "v": 73.5, "v2": 59.4}],
    "wedge": [
      {"w": 1, "v": 59.6, "t": -3.583, "t2": -3.583},
      {"w": 1, "v": -33, "t": -9.649, "t2": -7.937},
      {"w": 2, "v": 72.3, "t": 0.557, "t2": 0.557},
      {"w": 2, "v": -33, "t": -2.558, "t2": -0.799}
    ],
    "edges": [
      {"w": 1, "o": 1, "t": -9.649, "v": -33},
      {"w": 1, "o": 2, "t": -3.583, "v": 59.6},
      {"w": 1, "o": 3, "t": -7.937, "v": -33},
      {"w": 2, "o": 1, "t": -2.558, "v": -33},
      {"w": 2, "o": 2, "t": 0.557, "v": 72.3},
      {"w": 2, "o": 3, "t": -0.799, "v": -33}
    ],
    "ellipse": [{"t": 1.569, "v": 86.6}]
  },
  "encoding": {
    "x": {
      "field": "t",
      "type": "quantitative",
      "scale": {"domain": [-10, 15], "nice": false, "zero": false},
      "axis": {
        "title": "Time(min.)",
        "titleX": 1406,
        "titleY": 15,
        "titleAlign": "left",
        "titleBaseline": "alphabetic",
        "titleFontSize": 47,
        "titleFont": "Liberation Serif",
        "titleFontWeight": "normal",
        "titleColor": "black",
        "values": [-10, -5, 0, 5, 10, 15],
        "labelExpr": "datum.value < 0 ? '-' + abs(datum.value) : '' + datum.value",
        "tickSize": -24,
        "tickWidth": 2.5,
        "tickColor": "black",
        "domainColor": "black",
        "domainWidth": 2.5,
        "labelFontSize": 60,
        "labelFont": "Liberation Serif",
        "labelColor": "black",
        "labelPadding": 97,
        "labelBaseline": "top",
        "labelFlush": false,
        "labelOverlap": false,
        "grid": false,
        "zindex": 1
      }
    },
    "y": {
      "field": "v",
      "type": "quantitative",
      "scale": {"domain": [0, 160], "nice": false, "zero": false},
      "axis": {
        "title": "BP(mmHg)",
        "titleAngle": 0,
        "titleX": -231,
        "titleY": -46,
        "titleAlign": "left",
        "titleBaseline": "alphabetic",
        "titleFontSize": 50,
        "titleFont": "Liberation Serif",
        "titleFontWeight": "normal",
        "titleColor": "black",
        "values": [0, 40, 80, 120, 160],
        "tickSize": -24,
        "tickWidth": 2.5,
        "tickColor": "black",
        "domainColor": "black",
        "domainWidth": 2.5,
        "labelFontSize": 65,
        "labelFont": "Liberation Serif",
        "labelColor": "black",
        "labelPadding": 79,
        "labelFlush": false,
        "labelOverlap": false,
        "grid": true,
        "gridColor": "#9a9a9a",
        "gridDash": [2, 3],
        "gridWidth": 2,
        "zindex": 1
      }
    }
  },
  "layer": [
    {
      "data": {"name": "bgA"},
      "mark": {"type": "rect", "fill": "#000000", "fillOpacity": 0.022},
      "encoding": {"x2": {"field": "t2"}, "y2": {"field": "v2"}}
    },
    {
      "data": {"name": "bgB"},
      "mark": {"type": "rect", "fill": "#000000", "fillOpacity": 0.01},
      "encoding": {"x2": {"field": "t2"}, "y2": {"field": "v2"}}
    },
    {
      "data": {"name": "bp"},
      "mark": {"type": "line", "strokeWidth": 9, "strokeCap": "round", "strokeJoin": "round"},
      "encoding": {
        "color": {
          "field": "s",
          "type": "nominal",
          "scale": {"domain": ["SBP", "DBP"], "range": ["#1a35ff", "#3ad4d6"]},
          "legend": {
            "title": null,
            "orient": "none",
            "legendX": 1503,
            "legendY": 253,
            "direction": "vertical",
            "symbolType": "stroke",
            "symbolSize": 5625,
            "symbolStrokeWidth": 8,
            "labelFontSize": 50,
            "labelFont": "Liberation Serif",
            "labelColor": "black",
            "labelOffset": 13,
            "rowPadding": 30,
            "padding": 14,
            "strokeColor": "black",
            "encode": {
              "legend": {"update": {"strokeWidth": {"value": 2.5}}},
              "symbols": {"update": {"strokeCap": {"value": "round"}}}
            }
          }
        }
      }
    },
    {
      "data": {"name": "ellipse"},
      "mark": {
        "type": "point",
        "shape": "M -1 0 A 1 0.5424 0 1 0 1 0 A 1 0.5424 0 1 0 -1 0 Z",
        "size": 108900,
        "filled": false,
        "stroke": "#ff2a00",
        "strokeWidth": 10,
        "opacity": 1
      }
    },
    {
      "data": {"name": "wedge"},
      "mark": {"type": "area", "orient": "horizontal", "fill": "#d9e3f0", "fillOpacity": 0.9},
      "encoding": {"x2": {"field": "t2"}, "detail": {"field": "w", "type": "nominal"}}
    },
    {
      "data": {"name": "edges"},
      "mark": {"type": "line", "stroke": "#4a6b92", "strokeWidth": 3},
      "encoding": {"detail": {"field": "w", "type": "nominal"}, "order": {"field": "o", "type": "quantitative"}}
    }
  ]
}
